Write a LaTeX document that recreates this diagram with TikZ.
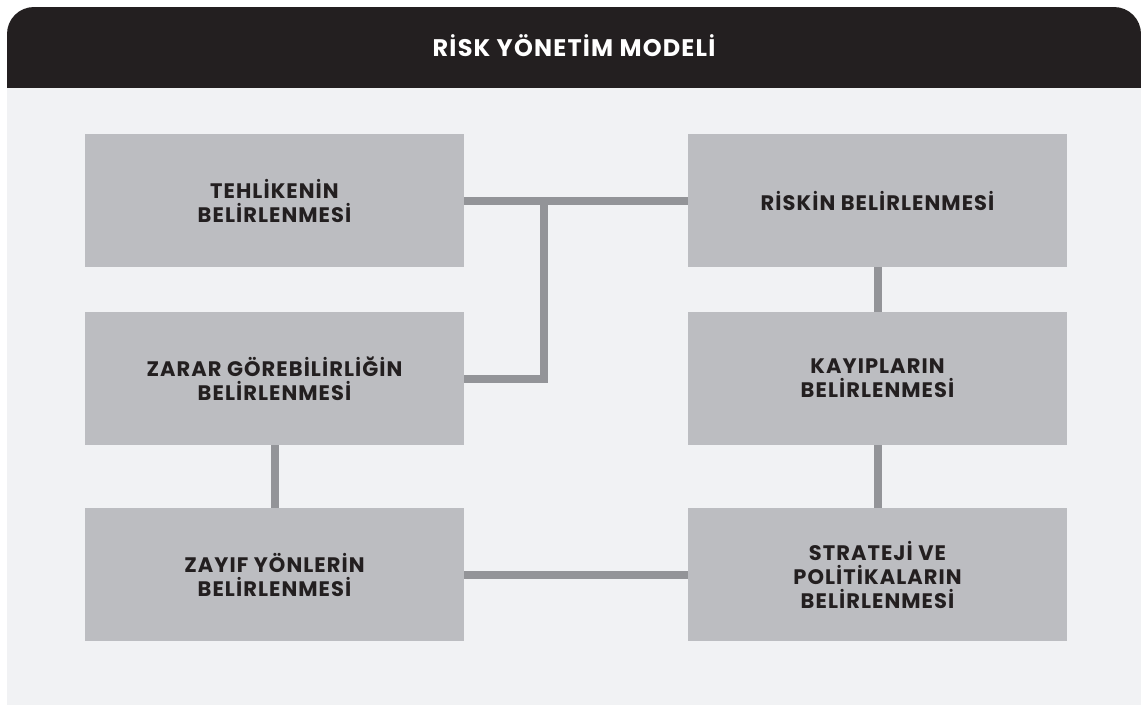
\documentclass[tikz,border=0pt]{standalone}
\usepackage{fontspec}
\setmainfont{Poppins}[LetterSpace=5]
\definecolor{headbg}{HTML}{231F20}
\definecolor{panelbg}{HTML}{F1F2F4}
\definecolor{boxbg}{HTML}{BCBDC1}
\definecolor{linec}{HTML}{939498}
\definecolor{txt}{HTML}{231F20}
\begin{document}
\begin{tikzpicture}[x=1pt,y=-1pt,
  stepbox/.style={fill=boxbg, minimum width=379pt, minimum height=133pt, inner sep=0pt,
    align=center, text=txt, font=\fontsize{21}{24}\selectfont\bfseries},
  conn/.style={draw=linec, line width=8pt}]
\useasboundingbox (0,0) rectangle (1141,705);
\fill[white] (0,0) rectangle (1141,705);
\fill[headbg, rounded corners=27pt] (7,7) rectangle (1141,130);
\fill[panelbg] (7,88) rectangle (1141,705);
\node[anchor=base, text=white, font=\fontsize{24}{26}\selectfont\bfseries] (title) at (574,56.7) {RİSK YÖNETİM MODELİ};
\node[stepbox] (b1) at (274.5,200.5) {TEHLİKENİN\\BELİRLENMESİ};
\node[stepbox] (b2) at (274.5,378.5) {ZARAR GÖREBİLİRLİĞİN\\BELİRLENMESİ};
\node[stepbox] (b3) at (274.5,574.5) {ZAYIF YÖNLERİN\\BELİRLENMESİ};
\node[stepbox] (b4) at (877.5,200.5) {RİSKİN BELİRLENMESİ};
\node[stepbox] (b5) at (877.5,378.5) {KAYIPLARIN\\BELİRLENMESİ};
\node[stepbox] (b6) at (877.5,574.5) {STRATEJİ VE\\POLİTİKALARIN\\BELİRLENMESİ};
\coordinate (j) at (544,200.5);
\draw[conn] (b1.east) -- (b4.west);
\draw[conn] (b2.east) -| (j);
\draw[conn] (b2.south) -- (b3.north);
\draw[conn] (b4.south) -- (b5.north);
\draw[conn] (b5.south) -- (b6.north);
\draw[conn] (b3.east) -- (b6.west);
\end{tikzpicture}
\end{document}
